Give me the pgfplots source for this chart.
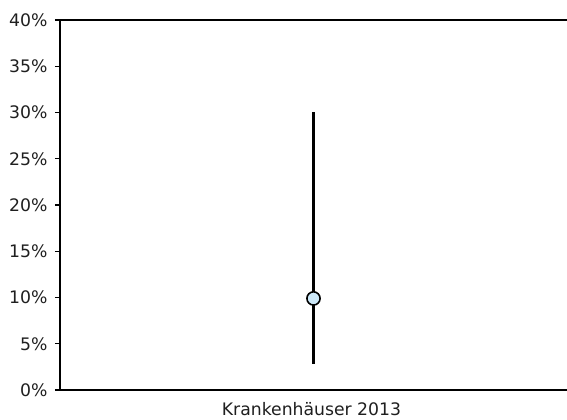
\documentclass[border=0pt]{standalone}
\usepackage{pgfplots}
\pgfplotsset{compat=1.18}
\usepackage{fontspec}
\setmainfont{DejaVu Sans}
\definecolor{mfill}{HTML}{CDE9F9}
\begin{document}
\begin{tikzpicture}[x=1bp,y=1bp]
\path[use as bounding box] (-60bp,-30bp) rectangle (507bp,390bp);
\begin{axis}[
  at={(0,0)}, anchor=south west,
  scale only axis, width=507bp, height=370bp,
  xmin=-1, xmax=1, ymin=0, ymax=40,
  axis x line*=bottom, axis y line*=left,
  separate axis lines,
  every outer x axis line/.append style={-},
  every outer y axis line/.append style={-},
  axis line style={line width=1.4bp, black},
  xtick={0}, xticklabels={Krankenhäuser 2013},
  xtick style={draw=none},
  ytick={0,5,...,40},
  yticklabel={\pgfmathprintnumber{\tick}\%},
  /pgf/number format/assume math mode=true,
  ytick style={line width=1.4bp, black},
  tick align=outside, major tick length=5bp,
  tick label style={font=\fontsize{17.3}{20}\selectfont, text=black!88},
  yticklabel style={xshift=-4bp},
  xticklabel style={yshift=-4bp, xshift=-2bp},
  clip=false,
]
\draw[line width=1.4bp, black] (axis cs:-1,40) -- (axis cs:1,40);
\addplot[draw=none, mark=none,
  error bars/.cd, y dir=both, y explicit, error mark=none,
  error bar style={line width=2.4bp, black}]
  coordinates {(0,9.9) += (0,20.1) -= (0,7.1)};
\addplot[only marks, mark=*, mark size=6.6bp,
  mark options={fill=mfill, draw=black, line width=1.6bp}]
  coordinates {(0,9.9)};
\end{axis}
\end{tikzpicture}
\end{document}
